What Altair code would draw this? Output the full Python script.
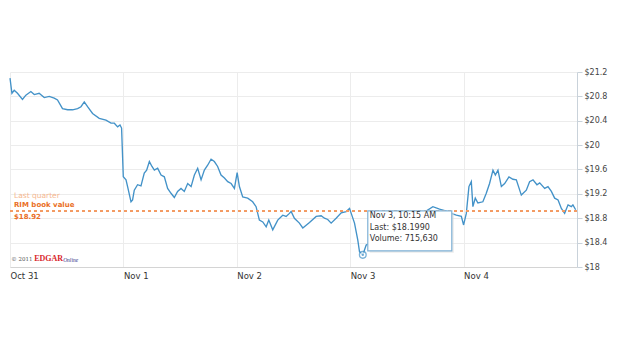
import altair as alt
import pandas as pd

# trading-day index (0 = Oct 31 open, 1 = Nov 1 open, ...) and last price
t_vals = [0.0, 0.017, 0.037, 0.066, 0.110, 0.140, 0.184, 0.214, 0.257, 0.302,
          0.346, 0.390, 0.419, 0.463, 0.508, 0.552, 0.596, 0.626, 0.655, 0.684,
          0.728, 0.787, 0.846, 0.891, 0.920, 0.949, 0.970, 0.984, 0.999, 1.023,
          1.037, 1.067, 1.081, 1.096, 1.125, 1.155, 1.184, 1.205, 1.229, 1.252,
          1.273, 1.302, 1.332, 1.361, 1.390, 1.420, 1.449, 1.478, 1.508, 1.537,
          1.567, 1.597, 1.626, 1.655, 1.685, 1.714, 1.743, 1.773, 1.802, 1.831,
          1.861, 1.891, 1.920, 1.950, 1.979, 2.003, 2.023, 2.052, 2.096, 2.140,
          2.170, 2.199, 2.229, 2.259, 2.282, 2.317, 2.361, 2.405, 2.435, 2.464,
          2.479, 2.508, 2.552, 2.582, 2.641, 2.700, 2.744, 2.773, 2.802, 2.832,
          2.876, 2.921, 2.965, 2.994, 3.009, 3.038, 3.067, 3.082, 3.111, 3.126,
          3.141, 3.170, 3.241, 3.311, 3.391, 3.479, 3.568, 3.656, 3.729, 3.788,
          3.841, 3.891, 3.936, 3.980, 4.000, 4.024, 4.047, 4.068, 4.082, 4.103,
          4.126, 4.170, 4.200, 4.229, 4.259, 4.280, 4.303, 4.333, 4.362, 4.400,
          4.435, 4.465, 4.509, 4.553, 4.582, 4.612, 4.647, 4.671, 4.715, 4.744,
          4.774, 4.803, 4.833, 4.862, 4.891, 4.921, 4.950, 4.964, 4.988]
prices = [21.10, 20.85, 20.90, 20.85, 20.75, 20.82, 20.88, 20.83, 20.85, 20.78,
          20.80, 20.77, 20.74, 20.60, 20.58, 20.58, 20.60, 20.63, 20.71, 20.63,
          20.52, 20.44, 20.41, 20.36, 20.36, 20.30, 20.33, 20.28, 19.48, 19.43,
          19.32, 19.07, 19.10, 19.26, 19.35, 19.33, 19.54, 19.59, 19.73, 19.65,
          19.59, 19.62, 19.51, 19.48, 19.29, 19.21, 19.14, 19.24, 19.29, 19.24,
          19.37, 19.32, 19.51, 19.62, 19.43, 19.59, 19.67, 19.77, 19.73, 19.65,
          19.51, 19.46, 19.40, 19.37, 19.29, 19.55, 19.32, 19.15, 19.13, 19.07,
          18.99, 18.77, 18.74, 18.66, 18.77, 18.61, 18.77, 18.85, 18.83, 18.88,
          18.91, 18.80, 18.72, 18.64, 18.73, 18.83, 18.84, 18.80, 18.78, 18.72,
          18.80, 18.89, 18.91, 18.96, 18.88, 18.72, 18.44, 18.25, 18.199, 18.28,
          18.36, 18.39, 18.55, 18.75, 18.85, 18.88, 18.86, 18.90, 18.99, 18.95,
          18.92, 18.88, 18.85, 18.83, 18.69, 18.88, 19.32, 19.40, 18.99, 19.13,
          19.05, 19.07, 19.21, 19.37, 19.59, 19.51, 19.59, 19.32, 19.37, 19.48,
          19.44, 19.43, 19.18, 19.26, 19.40, 19.43, 19.35, 19.38, 19.29, 19.32,
          19.24, 19.13, 19.10, 18.96, 18.88, 19.02, 18.99, 19.02, 18.94]

day_labels = ["Oct 31", "Nov 1", "Nov 2", "Nov 3", "Nov 4"]
y_ticks = [18.0, 18.4, 18.8, 19.2, 19.6, 20.0, 20.4, 20.8, 21.2]
book_value = 18.92
tip_t = 3.111
tip_price = 18.199
tip_lines = ["Nov 3, 10:15 AM", "Last: $18.1990", "Volume: 715,630"]
note_lines = ["Last quarter", "RIM book value", "$18.92"]

df = pd.DataFrame({"t": t_vals, "price": prices})
tip = pd.DataFrame({"t": [tip_t], "price": [tip_price]})

label_expr = "[" + ",".join('"%s"' % d for d in day_labels) + "][datum.value]"

x_enc = alt.X("t:Q", scale=alt.Scale(domain=[0, 5], nice=False, zero=False),
              axis=alt.Axis(values=[0, 1, 2, 3, 4], labelExpr=label_expr, title=None,
                            grid=True, gridColor="#ececec", ticks=False,
                            domainColor="#d4d4d4", labelAlign="left", labelPadding=4,
                            labelFontSize=8.5, labelColor="#333333", labelFont="DejaVu Sans",
                            labelOverlap=False))
y_enc = alt.Y("price:Q", scale=alt.Scale(domain=[18, 21.2], nice=False, zero=False),
              axis=alt.Axis(orient="right", values=y_ticks, title=None,
                            labelExpr='"$" + format(datum.value, "~g")', grid=True,
                            gridColor="#ececec", tickCount=9,
                            domainColor="#c9d2da", tickColor="#c9d2da", tickSize=5,
                            labelPadding=2, labelFontSize=8, labelColor="#444444",
                            labelFont="DejaVu Sans", labelOverlap=False))

line = alt.Chart(df).mark_line(color="#4392c8", strokeWidth=1.35).encode(x=x_enc, y=y_enc)

rule = alt.Chart(df).mark_rule(color="#f39c64", strokeDash=[3, 3], strokeWidth=0.9).encode(
    y=alt.datum(book_value))

note_df = pd.DataFrame({"t": [0.035] * 3, "price": [book_value] * 3,
                        "txt": note_lines, "i": [0, 1, 2]})
note_base = alt.Chart(note_df)
notes = alt.layer(
    note_base.transform_filter("datum.i == 0").mark_text(
        align="left", baseline="middle", dy=-15, fontSize=7.5, color="#f6b890",
        font="DejaVu Sans").encode(x=x_enc, y=y_enc, text="txt:N"),
    note_base.transform_filter("datum.i == 1").mark_text(
        align="left", baseline="middle", dy=-5.5, fontSize=7, fontWeight="bold",
        color="#ea6f26", font="DejaVu Sans").encode(x=x_enc, y=y_enc, text="txt:N"),
    note_base.transform_filter("datum.i == 2").mark_text(
        align="left", baseline="middle", dy=6.5, fontSize=7, fontWeight="bold",
        color="#ea6f26", font="DejaVu Sans").encode(x=x_enc, y=y_enc, text="txt:N"),
)

copy_df = pd.DataFrame({"t": [0.01], "price": [18.13]})
copy_base = alt.Chart(copy_df)
copyright_ = alt.layer(
    copy_base.mark_text(text="© 2011", align="left", baseline="middle", fontSize=5.5,
                        color="#555555", font="DejaVu Serif").encode(x=x_enc, y=y_enc),
    copy_base.mark_text(text="EDGAR", align="left", baseline="middle", dx=23, fontSize=8,
                        fontWeight="bold", color="#d8262b",
                        font="Liberation Serif").encode(x=x_enc, y=y_enc),
    copy_base.mark_text(text="Online", align="left", baseline="middle", dx=52, dy=1,
                        fontSize=5.5, fontStyle="italic", color="#1f2a80",
                        font="Liberation Serif").encode(x=x_enc, y=y_enc),
)

tip_base = alt.Chart(tip)
tip_box = tip_base.mark_rect(fill="white", stroke="#7fb1d6", strokeWidth=1.2,
                             xOffset=5, x2Offset=89, yOffset=-44, y2Offset=-4).encode(
    x=x_enc, x2="t:Q", y=y_enc, y2="price:Q")
tip_shadow = tip_base.mark_rect(fill="#dddddd", opacity=0.6,
                                xOffset=7, x2Offset=91, yOffset=-42, y2Offset=-2).encode(
    x=x_enc, x2="t:Q", y=y_enc, y2="price:Q")
tip_texts = alt.layer(*[
    tip_base.mark_text(text=s, align="left", baseline="middle", dx=7, dy=dy,
                       fontSize=8, color="#333333", font="DejaVu Sans").encode(
        x=x_enc, y=y_enc)
    for s, dy in zip(tip_lines, [-38.5, -27, -16])
])
marker_ring = tip_base.mark_point(shape="circle", size=45, filled=True, fill="white",
                                  stroke="#4392c8", strokeWidth=1.3).encode(x=x_enc, y=y_enc)
marker_dot = tip_base.mark_point(shape="circle", size=6, filled=True,
                                 color="#4392c8").encode(x=x_enc, y=y_enc)

chart = alt.layer(
    line, rule, notes, copyright_, tip_shadow, tip_box, tip_texts, marker_ring, marker_dot
).properties(
    width=567, height=195,
    autosize=alt.AutoSizeParams(type="none"),
    padding={"left": 10, "top": 72, "right": 47, "bottom": 84},
    background="white",
).configure_view(stroke=None)

chart.save("out.html", embed_options={"renderer": "svg", "actions": False})
